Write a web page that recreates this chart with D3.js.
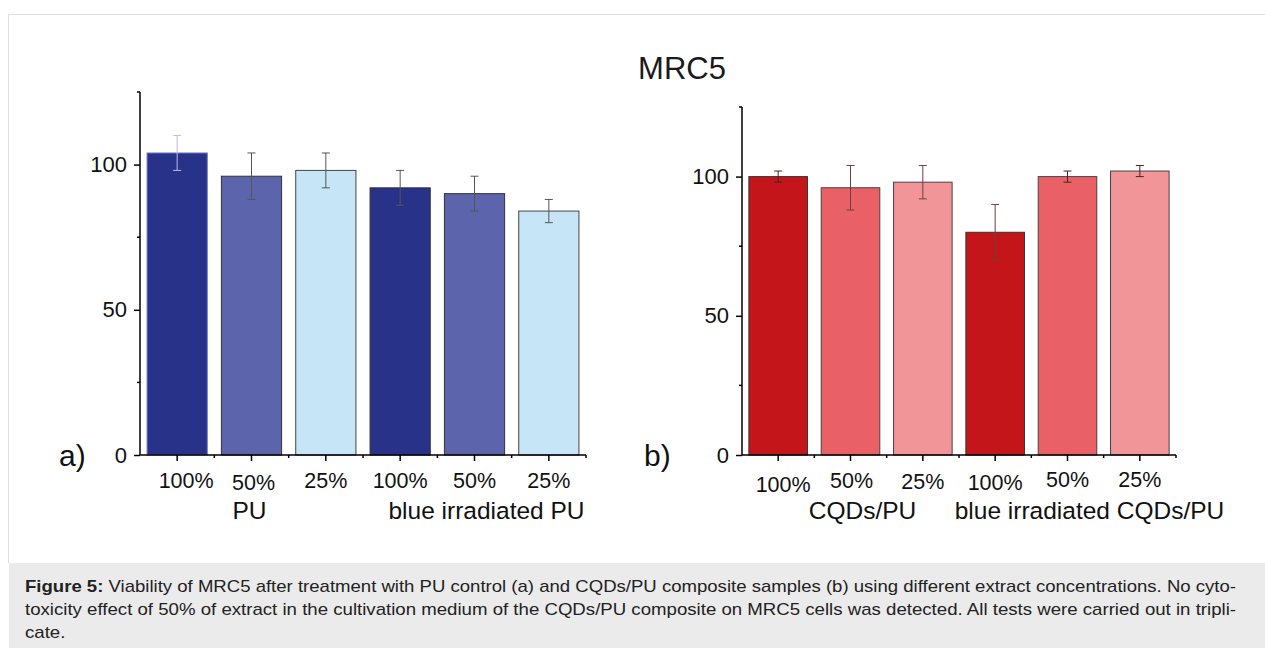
<!DOCTYPE html>
<html>
<head>
<meta charset="utf-8">
<script src="https://cdn.jsdelivr.net/npm/d3@7"></script>
<style>
  html, body { margin: 0; padding: 0; background: #fff; }
  svg { display: block; }
  .caption { font-family: 'Liberation Sans', Arial, sans-serif; font-size: 17px; fill: #222; }
</style>
</head>
<body>
<svg id="chart" width="1265" height="648"></svg>
<script>
// concentrations shown under each bar
var concentrations = ['100%', '50%', '25%', '100%', '50%', '25%'];

// panel a) PU control
var puMeans = [104, 96, 98, 92, 90, 84];
var puErrors = [6, 8, 6, 6, 6, 4];
var puGroups = ['PU', 'blue irradiated PU'];

// panel b) CQDs/PU composite
var cqdMeans = [100, 96, 98, 80, 100, 102];
var cqdErrors = [2, 8, 6, 10, 2, 2];
var cqdGroups = ['CQDs/PU', 'blue irradiated CQDs/PU'];

var yTicks = [0, 50, 100];
var yMinorTicks = [25, 75, 125];

var captionLines = [
  ['Figure 5:', ' Viability of MRC5 after treatment with PU control (a) and CQDs/PU composite samples (b) using different extract concentrations. No cyto-'],
  ['', 'toxicity effect of 50% of extract in the cultivation medium of the CQDs/PU composite on MRC5 cells was detected. All tests were carried out in tripli-'],
  ['', 'cate.']
];

var FONT = "'Liberation Sans', Arial, sans-serif";
var svg = d3.select('#chart');

// frame + caption box
svg.append('path')
  .attr('d', 'M8.5,563 V14.5 H1265')
  .attr('fill', 'none')
  .attr('stroke', '#dedede')
  .attr('stroke-width', 1);
svg.append('rect')
  .attr('x', 9).attr('y', 563)
  .attr('width', 1256).attr('height', 85)
  .attr('fill', '#ebebeb');

svg.append('text')
  .attr('x', 682).attr('y', 79)
  .attr('text-anchor', 'middle')
  .attr('font-family', FONT)
  .attr('font-size', 31)
  .attr('fill', '#1a1a1a')
  .text('MRC5');

function drawPanel(cfg) {
  var g = svg.append('g').attr('class', 'panel-' + cfg.letter);

  var x = d3.scaleBand()
    .domain(d3.range(cfg.means.length))
    .range([cfg.left, cfg.right])
    .paddingInner(0)
    .paddingOuter(0);
  var y = d3.scaleLinear().domain([0, 125]).range([cfg.bottom, cfg.top]);
  var barW = x.bandwidth() * 0.81;

  // bars
  g.selectAll('rect.bar')
    .data(cfg.means)
    .enter().append('rect')
    .attr('class', 'bar')
    .attr('x', function (d, i) { return x(i) + (x.bandwidth() - barW) / 2; })
    .attr('y', function (d) { return y(d); })
    .attr('width', barW)
    .attr('height', function (d) { return y(0) - y(d); })
    .attr('fill', function (d, i) { return cfg.colors[i % 3]; })
    .attr('stroke', function (d, i) { return cfg.barStroke[i]; })
    .attr('stroke-width', 1);

  // error bars
  var err = g.selectAll('g.err')
    .data(cfg.means)
    .enter().append('g')
    .attr('class', 'err')
    .attr('stroke', function (d, i) { return cfg.errColor[i]; })
    .attr('stroke-width', 1);
  err.append('line')
    .attr('x1', function (d, i) { return x(i) + x.bandwidth() / 2; })
    .attr('x2', function (d, i) { return x(i) + x.bandwidth() / 2; })
    .attr('y1', function (d, i) { return y(d + cfg.errors[i]); })
    .attr('y2', function (d, i) { return y(d - cfg.errors[i]); });
  [1, -1].forEach(function (s) {
    err.append('line')
      .attr('x1', function (d, i) { return x(i) + x.bandwidth() / 2 - 4; })
      .attr('x2', function (d, i) { return x(i) + x.bandwidth() / 2 + 4; })
      .attr('y1', function (d, i) { return y(d + s * cfg.errors[i]); })
      .attr('y2', function (d, i) { return y(d + s * cfg.errors[i]); });
  });

  // y axis
  var yAxis = g.append('g').attr('transform', 'translate(' + cfg.left + ',0)');
  yAxis.call(d3.axisLeft(y).tickValues(yTicks).tickSize(6).tickPadding(7));
  yAxis.select('.domain').remove();
  yAxis.append('line')
    .attr('x1', 0).attr('x2', 0)
    .attr('y1', y(125)).attr('y2', y(0))
    .attr('stroke', '#000').attr('stroke-width', 1.5);
  yAxis.selectAll('.tick line').attr('stroke-width', 1.5);
  yAxis.selectAll('.tick text')
    .attr('font-family', FONT)
    .attr('font-size', 22)
    .attr('fill', '#111');
  yAxis.selectAll('line.minor')
    .data(yMinorTicks)
    .enter().append('line')
    .attr('class', 'minor')
    .attr('x1', -3).attr('x2', 0)
    .attr('y1', function (d) { return y(d); })
    .attr('y2', function (d) { return y(d); })
    .attr('stroke', '#000').attr('stroke-width', 1.5);

  // x axis
  var xAxis = g.append('g').attr('transform', 'translate(0,' + cfg.bottom + ')');
  xAxis.append('line')
    .attr('x1', cfg.left).attr('x2', cfg.right)
    .attr('stroke', '#000').attr('stroke-width', 1.5);
  xAxis.selectAll('line.major')
    .data(cfg.means)
    .enter().append('line')
    .attr('class', 'major')
    .attr('x1', function (d, i) { return x(i) + x.bandwidth() / 2; })
    .attr('x2', function (d, i) { return x(i) + x.bandwidth() / 2; })
    .attr('y1', 0).attr('y2', 6)
    .attr('stroke', '#000').attr('stroke-width', 1.5);
  xAxis.selectAll('line.minor')
    .data(d3.range(1, cfg.means.length + 1))
    .enter().append('line')
    .attr('class', 'minor')
    .attr('x1', function (d) { return x(d) !== undefined ? x(d) : cfg.right; })
    .attr('x2', function (d) { return x(d) !== undefined ? x(d) : cfg.right; })
    .attr('y1', 0).attr('y2', 3)
    .attr('stroke', '#000').attr('stroke-width', 1.5);

  // concentration labels
  xAxis.selectAll('text.conc')
    .data(concentrations)
    .enter().append('text')
    .attr('class', 'conc')
    .attr('x', function (d, i) { return x(i) + x.bandwidth() / 2 + cfg.labelDx[i]; })
    .attr('y', function (d, i) { return 33 + cfg.labelDy[i]; })
    .attr('text-anchor', 'middle')
    .attr('font-family', FONT)
    .attr('font-size', 21.5)
    .attr('fill', '#111')
    .text(function (d) { return d; });

  // group labels
  xAxis.selectAll('text.group')
    .data(cfg.groups)
    .enter().append('text')
    .attr('class', 'group')
    .attr('x', function (d, i) { return x(i * 3 + 1) + x.bandwidth() / 2 + cfg.groupDx[i]; })
    .attr('y', 64)
    .attr('text-anchor', 'middle')
    .attr('font-family', FONT)
    .attr('font-size', 24.5)
    .attr('fill', '#111')
    .text(function (d) { return d; });

  // panel letter
  g.append('text')
    .attr('x', cfg.letterX)
    .attr('y', cfg.bottom + 11)
    .attr('font-family', FONT)
    .attr('font-size', 30)
    .attr('fill', '#111')
    .text(cfg.letter + ')');
}

drawPanel({
  letter: 'a',
  letterX: 59,
  left: 140, right: 586, top: 92, bottom: 455,
  means: puMeans, errors: puErrors, groups: puGroups,
  colors: ['#283289', '#5c64ac', '#c6e6f8'],
  barStroke: ['#6f78c4', '#333', '#444', '#333', '#333', '#444'],
  errColor: ['#b8bde6', '#555', '#555', '#555', '#555', '#555'],
  labelDx: [9, 2, 0, 0, 0, 0],
  labelDy: [0, 2, 0, 0, 0, 0],
  groupDx: [-2, 12]
});

drawPanel({
  letter: 'b',
  letterX: 644,
  left: 742, right: 1176, top: 107, bottom: 455,
  means: cqdMeans, errors: cqdErrors, groups: cqdGroups,
  colors: ['#c4161a', '#ea6067', '#f29599'],
  barStroke: ['#333', '#444', '#444', '#333', '#444', '#444'],
  errColor: ['#4a2020', '#6a4040', '#6a4040', '#6a4040', '#4a2020', '#4a2020'],
  labelDx: [5, 1, 0, 0, 0, 0],
  labelDy: [4, 0, 1, 2, -1, -1],
  groupDx: [12, 22]
});

// caption, justified lines stretched to the box width
var captionLeft = 25, captionRight = 1236, stretch = 1;
captionLines.forEach(function (line, i) {
  var t = svg.append('text')
    .attr('class', 'caption')
    .attr('x', captionLeft)
    .attr('y', 592 + i * 23);
  if (line[0]) {
    t.append('tspan').attr('font-weight', 'bold').text(line[0]);
  }
  t.append('tspan').text(line[1]);
  var w = t.node().getComputedTextLength();
  if (i < captionLines.length - 1) {
    stretch = (captionRight - captionLeft) / w;
    t.attr('textLength', captionRight - captionLeft);
  } else {
    t.attr('textLength', w * stretch);
  }
  t.attr('lengthAdjust', 'spacingAndGlyphs');
});
</script>
</body>
</html>
